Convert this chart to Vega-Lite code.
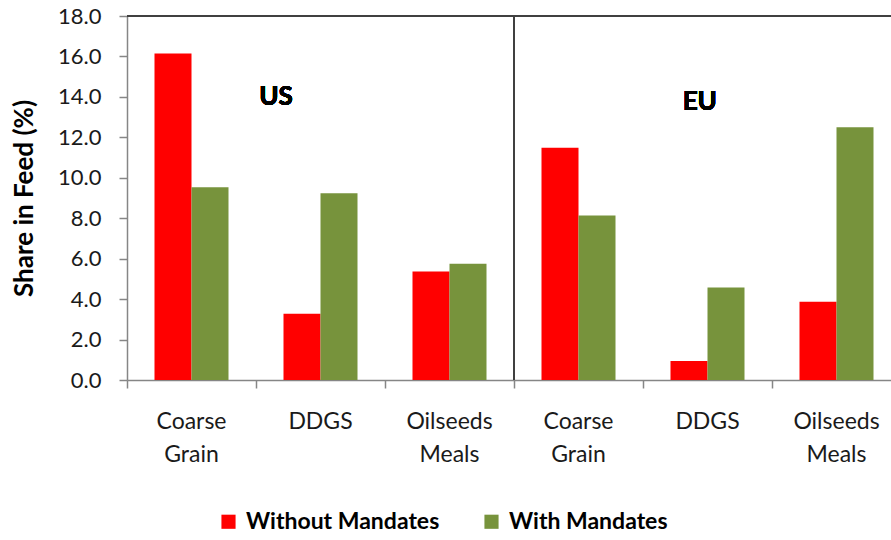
{
  "$schema": "https://vega.github.io/schema/vega-lite/v6.json",
  "width": 774,
  "height": 364,
  "autosize": {"type": "none"},
  "padding": {"left": 127, "top": 16, "right": 0, "bottom": 160},
  "background": "white",
  "config": {"view": {"stroke": null}, "font": "Lato"},
  "data": {
    "values": [
      {"cat": "US|Coarse Grain", "scenario": "Without Mandates", "share": 16.15},
      {"cat": "US|Coarse Grain", "scenario": "With Mandates", "share": 9.53},
      {"cat": "US|DDGS", "scenario": "Without Mandates", "share": 3.28},
      {"cat": "US|DDGS", "scenario": "With Mandates", "share": 9.23},
      {"cat": "US|Oilseeds Meals", "scenario": "Without Mandates", "share": 5.36},
      {"cat": "US|Oilseeds Meals", "scenario": "With Mandates", "share": 5.75},
      {"cat": "EU|Coarse Grain", "scenario": "Without Mandates", "share": 11.49},
      {"cat": "EU|Coarse Grain", "scenario": "With Mandates", "share": 8.14},
      {"cat": "EU|DDGS", "scenario": "Without Mandates", "share": 0.94},
      {"cat": "EU|DDGS", "scenario": "With Mandates", "share": 4.57},
      {"cat": "EU|Oilseeds Meals", "scenario": "Without Mandates", "share": 3.87},
      {"cat": "EU|Oilseeds Meals", "scenario": "With Mandates", "share": 12.5}
    ]
  },
  "layer": [
    {
      "mark": {"type": "bar"},
      "encoding": {
        "x": {
          "field": "cat",
          "type": "nominal",
          "sort": null,
          "scale": {"paddingInner": 0, "paddingOuter": 0},
          "axis": {
            "title": null,
            "bandPosition": 0,
            "labelAngle": 0,
            "labelExpr": "split(split(datum.label, '|')[1], ' ')",
            "labelFontSize": 23,
            "labelColor": "#1a1a1a",
            "labelLineHeight": 33,
            "labelBaseline": "top",
            "labelPadding": 22,
            "labelOverlap": false,
            "labelBound": false,
            "labelLimit": 300,
            "domainColor": "#868686",
            "domainWidth": 1.5,
            "tickColor": "#868686",
            "tickWidth": 1.5,
            "tickSize": 8,
            "grid": false
          }
        },
        "xOffset": {
          "field": "scenario",
          "type": "nominal",
          "sort": ["Without Mandates", "With Mandates"],
          "scale": {"paddingInner": 0, "paddingOuter": 0.743}
        },
        "y": {
          "field": "share",
          "type": "quantitative",
          "scale": {"domain": [0, 18], "nice": false},
          "axis": {
            "title": "Share in Feed (%)",
            "titleFontSize": 26,
            "titleFontWeight": "bold",
            "titleColor": "black",
            "titlePadding": 20,
            "values": [0, 2, 4, 6, 8, 10, 12, 14, 16, 18],
            "format": ".1f",
            "labelFontSize": 22,
            "labelColor": "#1a1a1a",
            "labelPadding": 18,
            "domainColor": "#868686",
            "domainWidth": 1.5,
            "tickColor": "#868686",
            "tickWidth": 1.5,
            "tickSize": 8,
            "grid": false
          }
        },
        "color": {
          "field": "scenario",
          "type": "nominal",
          "sort": ["Without Mandates", "With Mandates"],
          "scale": {"domain": ["Without Mandates", "With Mandates"], "range": ["#FF0000", "#77933C"]},
          "legend": {
            "title": null,
            "orient": "none",
            "direction": "horizontal",
            "legendX": 90,
            "legendY": 494,
            "padding": 0,
            "symbolType": "square",
            "symbolSize": 200,
            "symbolStrokeWidth": 0,
            "symbolOpacity": 1,
            "labelFontSize": 23,
            "labelFontWeight": "bold",
            "labelColor": "black",
            "labelOffset": 6,
            "labelLimit": 400,
            "columnPadding": 40
          }
        }
      }
    },
    {
      "mark": {"type": "rule", "color": "#404040", "strokeWidth": 1.5},
      "encoding": {
        "x": {"datum": "EU|Coarse Grain", "type": "nominal", "bandPosition": 0},
        "y": {"datum": 0, "type": "quantitative"},
        "y2": {"datum": 18}
      }
    },
    {
      "mark": {"type": "rule", "color": "#404040", "strokeWidth": 1.5},
      "encoding": {
        "y": {"datum": 18, "type": "quantitative"}
      }
    },
    {
      "mark": {"type": "text", "fontSize": 26, "fontWeight": "bold", "color": "black", "baseline": "middle", "align": "center"},
      "encoding": {
        "x": {"datum": "US|DDGS", "type": "nominal", "bandPosition": 0.155},
        "y": {"datum": 13.97, "type": "quantitative"},
        "text": {"value": "US"}
      }
    },
    {
      "mark": {"type": "text", "fontSize": 26, "fontWeight": "bold", "color": "black", "baseline": "middle", "align": "center"},
      "encoding": {
        "x": {"datum": "EU|DDGS", "type": "nominal", "bandPosition": 0.44},
        "y": {"datum": 13.77, "type": "quantitative"},
        "text": {"value": "EU"}
      }
    }
  ]
}
